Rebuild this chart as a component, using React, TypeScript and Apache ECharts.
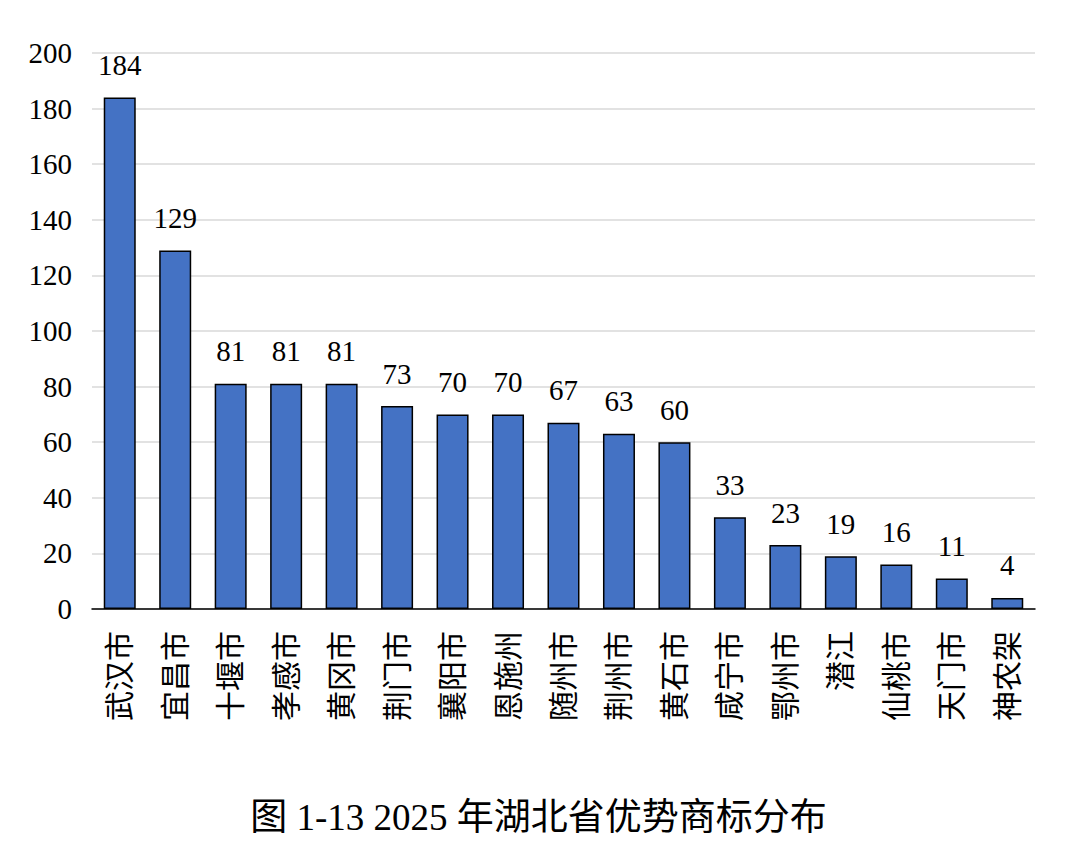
import React, { useEffect, useRef } from "react";
import * as echarts from "echarts";

const categories = ["武汉市", "宜昌市", "十堰市", "孝感市", "黄冈市", "荆门市", "襄阳市", "恩施州", "随州市", "荆州市", "黄石市", "咸宁市", "鄂州市", "潜江", "仙桃市", "天门市", "神农架"];
const values = [184, 129, 81, 81, 81, 73, 70, 70, 67, 63, 60, 33, 23, 19, 16, 11, 4];
const titleText = "图 1-13 2025 年湖北省优势商标分布";

const FONT = '"Liberation Serif", "Noto Sans CJK SC", serif';

export default function App() {
  const ref = useRef<HTMLDivElement>(null);
  useEffect(() => {
    const chart = echarts.init(ref.current!, null, { renderer: "svg" });
    chart.setOption({
      animation: false,
      backgroundColor: "#ffffff",
      title: {
        text: titleText,
        left: "center",
        bottom: 26,
        textStyle: { fontFamily: FONT, fontSize: 37, fontWeight: "normal", color: "#000" },
      },
      grid: { left: 92, right: 42, top: 53, bottom: 258, containLabel: false },
      xAxis: {
        type: "category",
        data: categories,
        axisLine: { lineStyle: { color: "#000", width: 1.5 } },
        axisTick: { alignWithLabel: true, length: 6, lineStyle: { color: "#000", width: 1.5 } },
        axisLabel: {
          rotate: 90,
          margin: 22,
          interval: 0,
          color: "#000",
          fontFamily: FONT,
          fontSize: 30,
        },
      },
      yAxis: {
        type: "value",
        min: 0,
        max: 200,
        interval: 20,
        axisLine: { show: false },
        axisTick: { show: false },
        splitLine: { lineStyle: { color: "#d9d9d9", width: 1.5 } },
        axisLabel: { color: "#000", fontFamily: FONT, fontSize: 29, margin: 20 },
      },
      series: [
        {
          type: "bar",
          data: values,
          barWidth: 32,
          itemStyle: { color: "#4472C4", borderColor: "#000", borderWidth: 1.5 },
          label: {
            show: true,
            position: "top",
            distance: 18,
            color: "#000",
            fontFamily: FONT,
            fontSize: 29,
          },
        },
      ],
    });
    return () => chart.dispose();
  }, []);
  return <div ref={ref} style={{ position: "fixed", left: 0, top: 0, width: 1077, height: 867 }} />;
}
